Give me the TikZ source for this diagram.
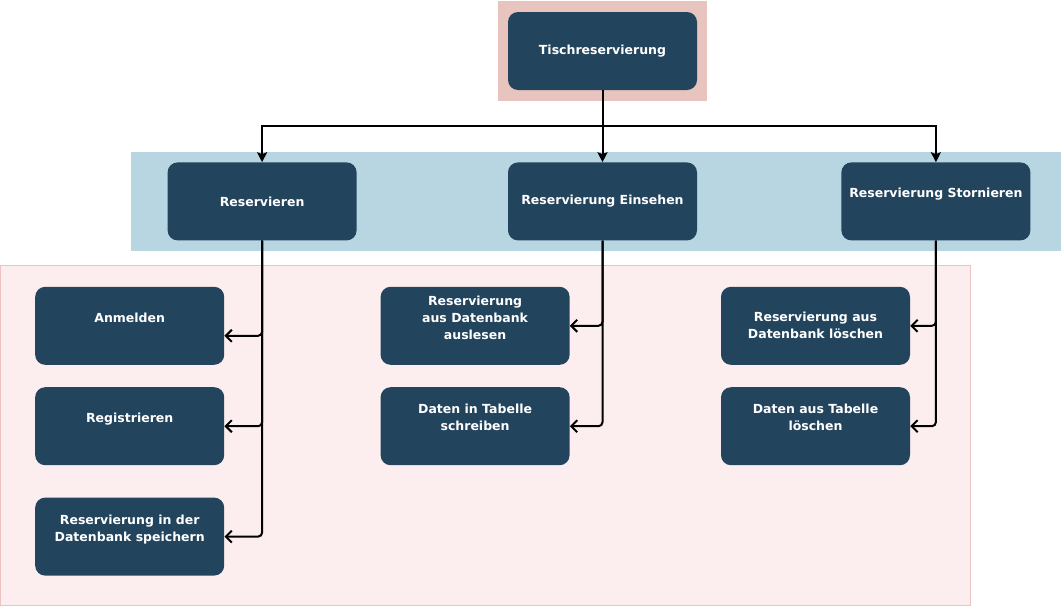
\documentclass[tikz,border=0pt]{standalone}
\usepackage{fontspec}
\setmainfont{DejaVu Sans}
\usepackage{tikz}
\usetikzlibrary{arrows.meta,positioning}
\definecolor{boxblue}{HTML}{23445D}
\definecolor{bandblue}{HTML}{B8D5E2}
\definecolor{bandrose}{HTML}{E8C4BF}
\definecolor{bandpink}{HTML}{FCEEEE}
\definecolor{bandline}{HTML}{EBC3C3}
\tikzstyle{task} = [rectangle, fill=boxblue, text=white, font=\fontsize{12.5}{17}\selectfont\bfseries, align=center, minimum width=189pt, minimum height=78pt, inner sep=0pt, rounded corners=10pt]
\tikzstyle{split} = [draw, line width=2pt, -{Stealth[length=10pt,width=10pt,inset=2pt]}]
\tikzstyle{sub} = [draw, line width=2pt, rounded corners=4pt, -{Straight Barb[length=6pt,width=12pt]}]

\begin{document}
\begin{tikzpicture}[x=1pt,y=-1pt]
    \useasboundingbox (0,0) rectangle (1061,606);
    \fill[bandrose] (498,1) rectangle (707,101);
    \fill[bandblue] (131,152) rectangle (1061,251);
    \filldraw[fill=bandpink, draw=bandline] (0,265) rectangle (970,605);
    \node [task] (tisch) at (602.5,51) {Tischreservierung};
    \node [task, below=72pt of tisch] (ein) {Reservierung Einsehen};
    \node [task, left=151pt of ein] (res) {Reservieren};
    \node [task, right=144pt of ein] (sto) {Reservierung Stornieren\\~};
    \node [task, below left=46pt and -57pt of res] (anm) {Anmelden\\~};
    \node [task, below=22pt of anm] (reg) {Registrieren\\~};
    \node [task, below=32pt of reg] (spe) {Reservierung in der\\Datenbank speichern\\~};
    \node [task, below left=46pt and -62pt of ein] (ausl) {Reservierung\\aus Datenbank\\auslesen\\~};
    \node [task, below=22pt of ausl] (schr) {Daten in Tabelle\\schreiben\\~};
    \node [task, below left=46pt and -69pt of sto] (dbl) {Reservierung aus\\Datenbank löschen};
    \node [task, below=22pt of dbl] (tabl) {Daten aus Tabelle\\löschen\\~};
    \path [split] (tisch.south) -- ++(0,36) -| (res.north);
    \path [split] (tisch.south) -- (ein.north);
    \path [split] (tisch.south) -- ++(0,36) -| (sto.north);
    \path [sub] (res.south) |- ([yshift=-10pt]anm.east);
    \path [sub] (res.south) |- (reg.east);
    \path [sub] (res.south) |- (spe.east);
    \path [sub] (ein.south) |- (ausl.east);
    \path [sub] (ein.south) |- (schr.east);
    \path [sub] (sto.south) |- (dbl.east);
    \path [sub] (sto.south) |- (tabl.east);
\end{tikzpicture}
\end{document}
